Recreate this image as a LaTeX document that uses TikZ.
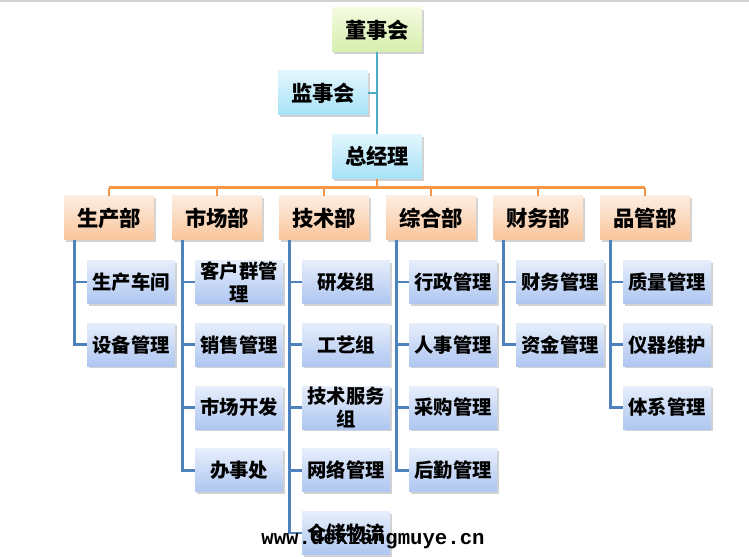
\documentclass[tikz,border=0pt]{standalone}
\usepackage{fontspec}
\newfontfamily\cjk{Noto Sans CJK SC}
\newfontfamily\wmfont{Liberation Mono}
\usepackage{tikz}
\usetikzlibrary{shadows}

\definecolor{greenTop}{HTML}{F4FADF}
\definecolor{greenBot}{HTML}{D6EFAE}
\definecolor{cyanTop}{HTML}{E2F6FD}
\definecolor{cyanBot}{HTML}{A6E2F7}
\definecolor{orangeTop}{HTML}{FDEDE0}
\definecolor{orangeBot}{HTML}{F9C59C}
\definecolor{blueTop}{HTML}{E6EEFB}
\definecolor{blueBot}{HTML}{AEC6F1}
\definecolor{tealLine}{HTML}{4BACC6}
\definecolor{orangeLine}{HTML}{F79646}
\definecolor{blueLine}{HTML}{4F81BD}

\begin{document}
\begin{tikzpicture}[x=0.75pt, y=-0.75pt,
	softshadow/.style={drop shadow={opacity=0.35, shadow xshift=1.3pt, shadow yshift=-1.6pt}},
	bigbox/.style={rectangle, minimum width=67.5pt, minimum height=33pt, inner sep=0pt, softshadow,
		font=\cjk\bfseries\fontsize{16}{19}\selectfont},
	boardbox/.style={bigbox, top color=greenTop, bottom color=greenBot},
	headbox/.style={bigbox, top color=cyanTop, bottom color=cyanBot},
	dept/.style={bigbox, top color=orangeTop, bottom color=orangeBot},
	sub/.style={rectangle, minimum width=66pt, minimum height=32.25pt, inner sep=0pt, softshadow,
		top color=blueTop, bottom color=blueBot, align=center,
		font=\cjk\bfseries\fontsize{14.5}{17}\selectfont},
	topline/.style={tealLine, line width=2.2pt},
	busline/.style={orangeLine, line width=2.2pt},
	subline/.style={blueLine, line width=2.2pt}]

	\fill[white] (0,0) rectangle (749,559);
	\useasboundingbox (0,0) rectangle (749,559);
	\draw[gray!35, line width=1.2pt] (0,0.8) -- (749,0.8);

	% top of the chart
	\node[boardbox] (board) at (377,30) {董事会};
	\node[headbox] (super) at (323,93) {监事会};
	\node[headbox] (gm) at (377,156.5) {总经理};

	\draw[topline] (board.south) -- (gm.north);
	\draw[topline] (super.east) -- (super.east -| board.south);

	% departments
	\foreach \n/\x/\t in {prod/109/生产部, mkt/217/市场部, tech/324/技术部, gen/431/综合部, fin/538/财务部, qc/645/品管部}
		\node[dept] (\n) at (\x,218) {\t};

	\draw[busline] (gm.south) -- ++(0,9) coordinate (bus);
	\draw[busline] (bus -| prod.north) -- (bus -| qc.north);
	\foreach \n in {prod,mkt,tech,gen,fin,qc}
		\draw[busline] (bus -| \n.north) -- (\n.north);

	% sections
	\foreach \n/\x/\l in {prod/109/{生产车间,设备管理},
			mkt/217/{{客户群管\\理},销售管理,市场开发,办事处},
			tech/324/{研发组,工艺组,{技术服务\\组},网络管理,仓储物流},
			gen/431/{行政管理,人事管理,采购管理,后勤管理},
			fin/538/{财务管理,资金管理},
			qc/645/{质量管理,仪器维护,体系管理}}
		\foreach \s [count=\i] in \l
			\node[sub] (\n\i) at (\x+22,{282+62.75*(\i-1)}) {\s};

	\foreach \n/\k in {prod/2, mkt/4, tech/5, gen/4, fin/2, qc/3} {
		\draw[subline] ([xshift=7.8pt]\n.south west) |- (\n\k.west);
		\foreach \i in {1,...,\k}
			\draw[subline] (\n\i.west) -- ++(-9pt,0);
	}

	\node[font=\wmfont\bfseries\fontsize{15.5}{18}\selectfont, inner sep=0pt] (mark) at (373,539) {www.dexiangmuye.cn};

\end{tikzpicture}
\end{document}
